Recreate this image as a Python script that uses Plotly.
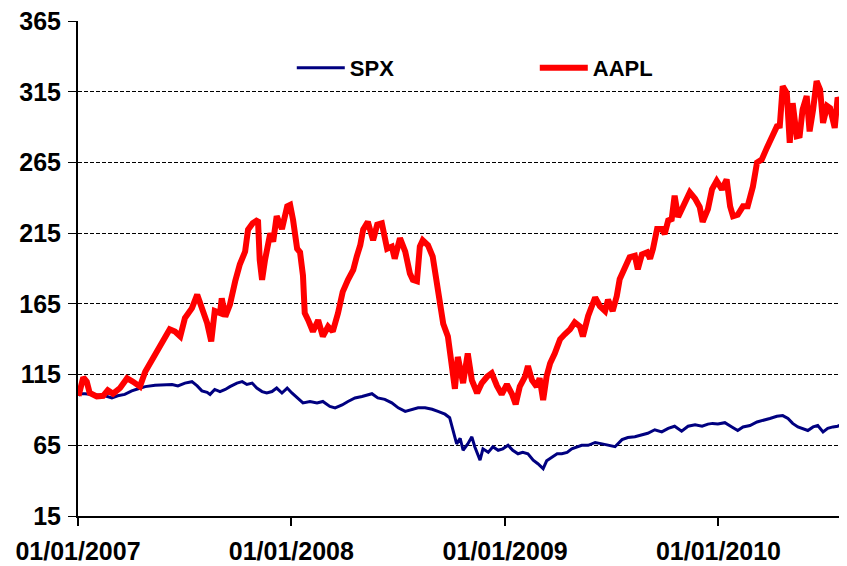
import plotly.graph_objects as go

# ---- data (both series rebased to 100) ----
aapl_dates = [
    "2007-01-02", "2007-01-10", "2007-01-16", "2007-01-21", "2007-02-02", "2007-02-13", "2007-02-21",
    "2007-03-02", "2007-03-14", "2007-03-26", "2007-04-05", "2007-04-17", "2007-04-26", "2007-05-08",
    "2007-05-18", "2007-05-30", "2007-06-07", "2007-06-16", "2007-06-25", "2007-07-03", "2007-07-15",
    "2007-07-24", "2007-08-01", "2007-08-10", "2007-08-17", "2007-08-23", "2007-09-01", "2007-09-04",
    "2007-09-10", "2007-09-18", "2007-09-27", "2007-10-05", "2007-10-14", "2007-10-19", "2007-10-27",
    "2007-11-05", "2007-11-08", "2007-11-12", "2007-11-17", "2007-11-26", "2007-12-01", "2007-12-07",
    "2007-12-16", "2007-12-25", "2007-12-30", "2008-01-04", "2008-01-11", "2008-01-16", "2008-01-21",
    "2008-01-24", "2008-01-30", "2008-02-07", "2008-02-16", "2008-02-24", "2008-03-04", "2008-03-12",
    "2008-03-21", "2008-03-29", "2008-04-07", "2008-04-16", "2008-04-22", "2008-04-28", "2008-05-03",
    "2008-05-11", "2008-05-20", "2008-05-27", "2008-06-04", "2008-06-13", "2008-06-21", "2008-06-26",
    "2008-07-05", "2008-07-14", "2008-07-22", "2008-07-27", "2008-08-03", "2008-08-08", "2008-08-13",
    "2008-08-22", "2008-08-30", "2008-09-06", "2008-09-11", "2008-09-17", "2008-09-25", "2008-10-02",
    "2008-10-07", "2008-10-12", "2008-10-21", "2008-10-29", "2008-11-05", "2008-11-14", "2008-11-22",
    "2008-12-01", "2008-12-09", "2008-12-18", "2008-12-26", "2009-01-04", "2009-01-13", "2009-01-19",
    "2009-01-26", "2009-02-04", "2009-02-09", "2009-02-16", "2009-02-24", "2009-03-01", "2009-03-07",
    "2009-03-13", "2009-03-19", "2009-03-27", "2009-04-05", "2009-04-13", "2009-04-22", "2009-04-30",
    "2009-05-09", "2009-05-14", "2009-05-23", "2009-06-04", "2009-06-12", "2009-06-21", "2009-06-26",
    "2009-07-04", "2009-07-11", "2009-07-16", "2009-07-25", "2009-08-02", "2009-08-11", "2009-08-16",
    "2009-08-23", "2009-09-01", "2009-09-06", "2009-09-11", "2009-09-18", "2009-09-26", "2009-10-01",
    "2009-10-07", "2009-10-13", "2009-10-18", "2009-10-24", "2009-11-01", "2009-11-13", "2009-11-22",
    "2009-11-30", "2009-12-05", "2009-12-14", "2009-12-21", "2009-12-29", "2010-01-07", "2010-01-15",
    "2010-01-21", "2010-01-26", "2010-02-03", "2010-02-12", "2010-02-20", "2010-03-01", "2010-03-08",
    "2010-03-16", "2010-03-25", "2010-04-02", "2010-04-11", "2010-04-16", "2010-04-21", "2010-04-28",
    "2010-05-03", "2010-05-08", "2010-05-15", "2010-05-20", "2010-05-25", "2010-06-01", "2010-06-06",
    "2010-06-12", "2010-06-18", "2010-06-24", "2010-06-29", "2010-07-06", "2010-07-11", "2010-07-19",
    "2010-07-24", "2010-07-31", "2010-08-05", "2010-08-09",
]
aapl_values = [
    100, 113, 110, 102, 99.5, 100, 104,
    101.5, 105.5, 112.5, 110, 106.5, 117, 125.5,
    132.5, 141, 147, 145.5, 142, 155, 162,
    171.5, 163, 151.5, 138.5, 160, 158.5, 169,
    156, 164.5, 181, 193, 202, 217.5, 222,
    224.5, 196, 182, 196, 215, 209, 227,
    218, 234, 235, 224.5, 204, 201.5, 185,
    158.5, 153.5, 145.5, 153.5, 142, 149, 145.5,
    158.5, 173.5, 182, 189, 198.5, 206.5, 217.5,
    223, 210, 221, 222, 204, 205.5, 197,
    211.5, 202, 186.5, 182, 181, 205.5, 210,
    206.5, 198.5, 182, 170, 151, 142, 116,
    105, 127.5, 109, 130, 111, 102, 109,
    113.5, 116, 107, 101, 108, 101, 94,
    106.5, 113.5, 121, 111, 106.5, 112.5, 97,
    114, 123, 130, 140, 143.5, 147, 152,
    149, 142, 156.5, 169.5, 163.5, 160, 168,
    160, 170.5, 182.5, 192, 198, 199, 189.5,
    200, 201.5, 197, 204, 218, 218, 214.5,
    224, 225, 241.5, 226.5, 233.5, 244, 239.5,
    233.5, 223, 232, 246, 252, 246, 253,
    234, 227, 228, 234, 234, 248, 265,
    267, 275.5, 282.5, 290.5, 291, 319, 314,
    279, 307, 283.5, 284, 302.5, 312, 287,
    302.5, 322.5, 316.5, 293, 305, 303.5, 289.5,
    311, 303.5, 305, 293,
]

spx_dates = [
    "2007-01-02", "2007-01-04", "2007-01-13", "2007-01-30", "2007-02-16", "2007-02-28", "2007-03-10",
    "2007-03-22", "2007-04-03", "2007-04-14", "2007-04-26", "2007-05-13", "2007-05-30", "2007-06-11",
    "2007-06-21", "2007-07-03", "2007-07-15", "2007-07-24", "2007-08-01", "2007-08-10", "2007-08-15",
    "2007-08-23", "2007-09-01", "2007-09-10", "2007-09-18", "2007-09-30", "2007-10-09", "2007-10-17",
    "2007-10-26", "2007-11-03", "2007-11-12", "2007-11-20", "2007-11-29", "2007-12-07", "2007-12-16",
    "2007-12-25", "2008-01-02", "2008-01-11", "2008-01-21", "2008-02-02", "2008-02-14", "2008-02-24",
    "2008-03-07", "2008-03-16", "2008-03-28", "2008-04-07", "2008-04-19", "2008-05-01", "2008-05-11",
    "2008-05-18", "2008-05-28", "2008-06-09", "2008-06-21", "2008-07-02", "2008-07-14", "2008-07-25",
    "2008-08-05", "2008-08-17", "2008-08-29", "2008-09-08", "2008-09-20", "2008-09-28", "2008-10-04",
    "2008-10-10", "2008-10-16", "2008-10-21", "2008-10-29", "2008-11-05", "2008-11-10", "2008-11-19",
    "2008-11-24", "2008-12-03", "2008-12-11", "2008-12-20", "2008-12-28", "2009-01-06", "2009-01-14",
    "2009-01-23", "2009-01-31", "2009-02-09", "2009-02-18", "2009-02-26", "2009-03-07", "2009-03-13",
    "2009-03-22", "2009-03-31", "2009-04-08", "2009-04-17", "2009-04-25", "2009-05-04", "2009-05-12",
    "2009-05-23", "2009-06-04", "2009-06-16", "2009-06-26", "2009-07-08", "2009-07-20", "2009-07-30",
    "2009-08-11", "2009-08-23", "2009-09-02", "2009-09-14", "2009-09-26", "2009-10-07", "2009-10-18",
    "2009-10-30", "2009-11-10", "2009-11-22", "2009-12-04", "2009-12-14", "2009-12-22", "2009-12-31",
    "2010-01-12", "2010-01-24", "2010-02-03", "2010-02-12", "2010-02-24", "2010-03-08", "2010-03-18",
    "2010-03-30", "2010-04-11", "2010-04-21", "2010-04-30", "2010-05-08", "2010-05-17", "2010-05-25",
    "2010-06-03", "2010-06-12", "2010-06-20", "2010-06-29", "2010-07-07", "2010-07-16", "2010-07-24",
    "2010-08-02", "2010-08-09",
]
spx_values = [
    100, 101.5, 101.5, 101, 100, 98.5, 100,
    101, 103.5, 105, 106.5, 107.5, 107.5, 108,
    107, 109, 110, 107, 103.5, 102.5, 101,
    104.5, 103, 104.5, 106.5, 109, 110, 108,
    109, 105.5, 103, 102, 103, 105.5, 102,
    105.5, 102, 98.5, 95, 96, 95, 96,
    92.5, 91.5, 93.5, 96, 98.5, 99.5, 101,
    101.5, 98.5, 97.5, 95, 91.5, 89, 90.5,
    91.5, 91.5, 90.5, 89, 87, 84.5, 76,
    66, 70, 61.5, 66, 71, 64, 54.5,
    62.5, 60, 64, 61.5, 62.5, 65, 61.5,
    59, 60, 59, 54.5, 52, 48.5, 54,
    56.5, 59, 59, 60, 62.5, 64, 65,
    65, 67, 66, 65, 64, 69, 70.5,
    71, 72.5, 73.5, 76, 74.5, 77, 78.5,
    75, 78.5, 79.5, 78.5, 80, 80.5, 80,
    81, 78, 75.5, 78, 79, 81.5, 82.5,
    84, 85.5, 86, 84, 80.5, 78, 77,
    75.5, 78, 79, 74.5, 77, 78, 78.5,
    80, 79.5,
]

x_tick_values = ["2007-01-01", "2008-01-01", "2009-01-01", "2010-01-01"]
x_tick_labels = ["01/01/2007", "01/01/2008", "01/01/2009", "01/01/2010"]
y_tick_values = [15, 65, 115, 165, 215, 265, 315, 365]

FONT = "Liberation Sans, Arial, sans-serif"

fig = go.Figure()
fig.add_trace(go.Scatter(
    x=spx_dates, y=spx_values, name="<b>SPX</b>", mode="lines",
    line=dict(color="#000080", width=3), legend="legend",
))
fig.add_trace(go.Scatter(
    x=aapl_dates, y=aapl_values, name="<b>AAPL</b>", mode="lines",
    line=dict(color="#FF0000", width=6), legend="legend2",
))

# the page body adds an 8px offset, so the figure is 8px smaller than the window
fig.update_layout(
    width=847, height=558,
    margin=dict(l=70, r=8, t=13, b=50, autoexpand=False),
    paper_bgcolor="white", plot_bgcolor="white",
    font=dict(family=FONT, color="black", size=24),
    legend=dict(x=0.278, y=0.905, xanchor="left", yanchor="middle",
                orientation="h", itemwidth=48,
                font=dict(family=FONT, size=22, color="black"),
                bgcolor="rgba(0,0,0,0)"),
    legend2=dict(x=0.594, y=0.905, xanchor="left", yanchor="middle",
                 orientation="h", itemwidth=48,
                 font=dict(family=FONT, size=22, color="black"),
                 bgcolor="rgba(0,0,0,0)"),
    showlegend=True,
)
fig.update_xaxes(
    type="date", range=["2007-01-01", "2010-08-09"], automargin=False,
    tickvals=x_tick_values, ticktext=["<b>%s</b>" % t for t in x_tick_labels],
    ticks="outside", ticklen=8, tickwidth=2, tickcolor="black",
    showline=True, linecolor="black", linewidth=2,
    showgrid=False, zeroline=False, ticklabelstandoff=4,
    ticklabeloverflow="allow",
    tickfont=dict(family=FONT, size=25, color="black"),
)
fig.update_yaxes(
    range=[15, 365.08], tickvals=y_tick_values, automargin=False,
    ticktext=["<b>%d</b>" % v for v in y_tick_values],
    ticks="outside", ticklen=8, tickwidth=1, tickcolor="black",
    showline=True, linecolor="black", linewidth=2,
    showgrid=True, gridcolor="black", gridwidth=1, griddash="4px,2px",
    zeroline=False, ticklabelstandoff=2, ticklabeloverflow="allow",
    tickfont=dict(family=FONT, size=25, color="black"),
)

fig.write_html("out.html")
